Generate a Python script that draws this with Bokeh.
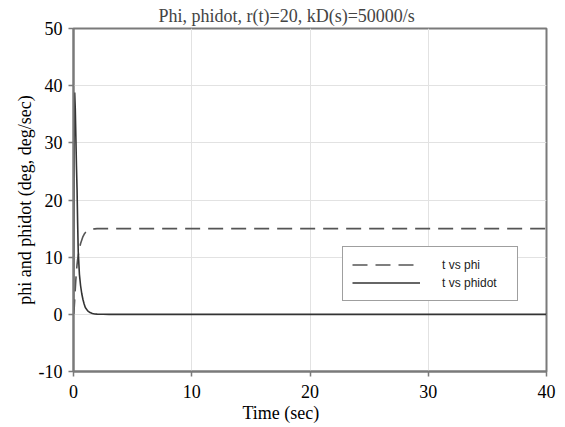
from bokeh.plotting import figure
from bokeh.models import Legend, LegendItem, FixedTicker, Title
from bokeh.embed import file_html
from bokeh.resources import INLINE

# ---- data ----
t = [0, 0.05, 0.1, 0.15, 0.2, 0.25, 0.3, 0.35, 0.4, 0.5, 0.6, 0.7, 0.8, 0.9,
     1.0, 1.2, 1.4, 1.6, 1.8, 2.0, 2.5, 3.0, 40.0]
phidot = [0, 30, 38.8, 36, 31, 26, 22, 16, 11, 7, 5, 3.6, 2.6, 1.8,
          1.2, 0.6, 0.3, 0.15, 0.07, 0.03, 0.01, 0, 0]
phi = [0, 0.8, 2.5, 4.4, 6.1, 7.5, 8.7, 9.6, 10.3, 11.5, 12.4, 13.0, 13.6, 14.0,
       14.3, 14.6, 14.8, 14.9, 14.95, 15, 15, 15, 15]
x_ticks = [0, 10, 20, 30, 40]
y_ticks = [-10, 0, 10, 20, 30, 40, 50]
title_text = "Phi, phidot, r(t)=20, kD(s)=50000/s"
x_label = "Time (sec)"
y_label = "phi and phidot (deg, deg/sec)"
legend_labels = ["t vs phi", "t vs phidot"]

SERIF = "Liberation Serif"
SANS = "Liberation Sans"
FRAME = "#7a7a7a"

p = figure(width=565, height=427, x_range=(0, 40), y_range=(-10, 50),
           output_backend="svg", toolbar_location=None,
           min_border_left=73, min_border_right=19, min_border_bottom=56,
           min_border_top=4)
p.background_fill_color = "white"
p.border_fill_color = "white"
p.outline_line_color = FRAME
p.outline_line_width = 2

p.title.text = title_text
p.title.text_font = SERIF
p.title.text_font_size = "18px"
p.title.text_font_style = "normal"
p.title.align = "left"
p.title.offset = 85
p.title.standoff = 6

for ax in (p.xaxis[0], p.yaxis[0]):
    ax.major_label_text_font = SERIF
    ax.major_label_text_font_size = "18px"
    ax.major_label_text_color = "black"
    ax.axis_label_text_font = SERIF
    ax.axis_label_text_font_size = "18px"
    ax.axis_label_text_font_style = "normal"
    ax.axis_label_text_color = "black"
    ax.axis_line_color = FRAME
    ax.axis_line_width = 2
    ax.major_tick_line_color = FRAME
    ax.major_tick_line_width = 1.5
    ax.major_tick_out = 5
    ax.major_tick_in = 0
    ax.minor_tick_line_color = None

p.xaxis[0].ticker = FixedTicker(ticks=x_ticks)
p.yaxis[0].ticker = FixedTicker(ticks=y_ticks)
p.yaxis[0].major_label_overrides = {v: str(v) for v in y_ticks}
p.xaxis[0].major_label_overrides = {v: str(v) for v in x_ticks}
p.xaxis[0].major_label_standoff = 8
p.yaxis[0].major_label_standoff = 6
p.yaxis[0].axis_label = y_label
p.yaxis[0].axis_label_standoff = 1

p.xgrid.ticker = FixedTicker(ticks=x_ticks)
p.ygrid.ticker = FixedTicker(ticks=y_ticks)
p.grid.grid_line_color = "#e2e2e2"
p.grid.grid_line_width = 1

# x-axis title, centred on the page as in the reference
p.add_layout(Title(text=x_label, text_font=SERIF, text_font_size="18px",
                   text_font_style="normal", text_color="black",
                   align="left", offset=169, standoff=1), "below")

r_phi = p.line(t, phi, line_color="#555555", line_width=1.6, line_dash="15 8")
r_phidot = p.line(t, phidot, line_color="#333333", line_width=1.6)

legend = Legend(items=[LegendItem(label=legend_labels[0], renderers=[r_phi]),
                       LegendItem(label=legend_labels[1], renderers=[r_phidot])],
                location=(269, 70), orientation="vertical")
legend.label_text_font = SANS
legend.label_text_font_size = "12px"
legend.label_text_color = "#222222"
legend.glyph_width = 68
legend.glyph_height = 17
legend.label_height = 17
legend.label_width = 66
legend.label_standoff = 22
legend.padding = 9
legend.spacing = 1
legend.margin = 0
legend.border_line_color = "#404040"
legend.border_line_width = 1
legend.background_fill_color = "white"
legend.background_fill_alpha = 1
p.add_layout(legend, "center")

open("out.html", "w").write(file_html(p, INLINE))
